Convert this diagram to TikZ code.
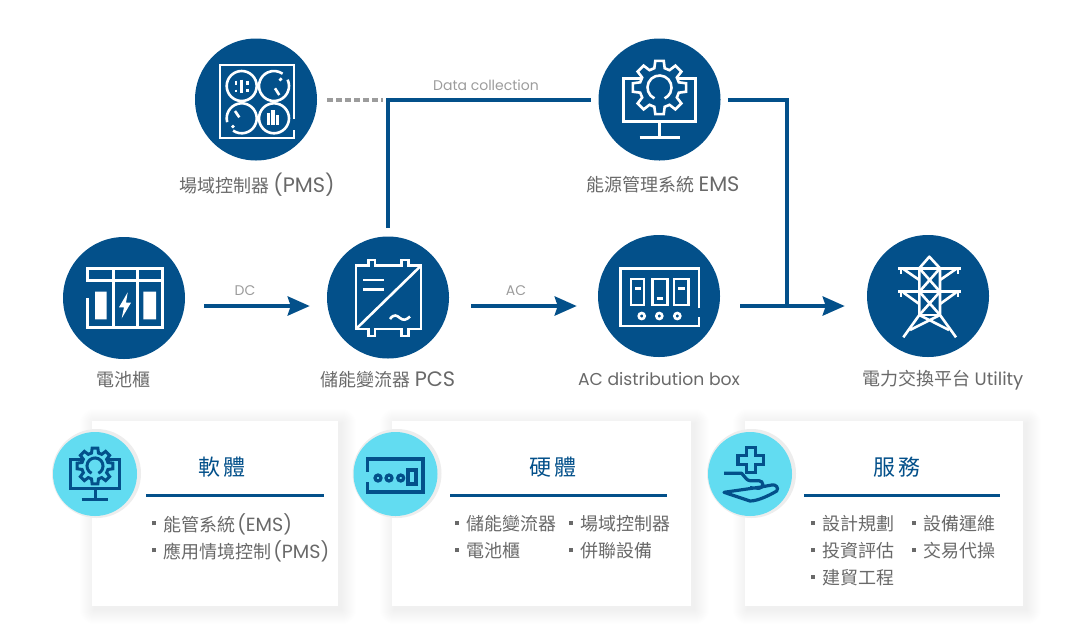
\documentclass[tikz,border=0pt]{standalone}
\usepackage{fontspec}
\setmainfont{Noto Sans CJK TC}
\newfontfamily\latin{Poppins}
\newfontfamily\latincaps[Scale=1.16]{Poppins}
\newfontfamily\latinlist[Scale=1.06]{Poppins}
\usetikzlibrary{arrows.meta}
\newdimen\px
\px=.75pt
\definecolor{deep}{HTML}{03508A}
\definecolor{sky}{HTML}{62DCF1}
\definecolor{ink}{HTML}{696969}
\definecolor{faint}{HTML}{9C9C9C}
\tikzset{
	hub/.style={circle, fill=deep, minimum size=122\px, inner sep=0pt},
	badge/.style={circle, fill=sky, minimum size=84\px, inner sep=0pt},
	halo/.style={circle, fill=black!7, minimum size=89\px, inner sep=0pt},
	card/.style={rectangle, fill=white, minimum height=185\px, inner sep=0pt},
	caption/.style={text=ink, inner sep=0pt, font=\fontsize{13.5pt}{16pt}\selectfont},
	tag/.style={text=faint, inner sep=0pt, font=\fontsize{10.5pt}{13pt}\selectfont},
	headline/.style={text=deep, inner sep=0pt, font=\fontsize{16.5pt}{20pt}\selectfont},
	entry/.style={text=ink, anchor=west, inner sep=0pt, font=\fontsize{13.5pt}{16pt}\selectfont},
	flow/.style={draw=deep, line width=4\px},
	flowarrow/.style={flow, -{Stealth[length=16.5pt,width=14.25pt,inset=2.25pt]}},
	datalink/.style={draw=faint, line width=4\px, dash pattern=on 6\px off 3\px},
	rulebar/.style={draw=deep, line width=3\px},
	mono/.style={draw=white, line width=2.6\px},
	duo/.style={draw=deep, line width=3.2\px}
}
\tikzset{
	pics/gearscreen/.style n args={3}{code={
		\draw[draw=#1, line width=#3] (-36,-21) -- (36,-21) -- (36,22) -- (-36,22) -- cycle;
		\draw[draw=#1, line width=#3] (0,22) -- (0,38) (-20,38) -- (20,38);
		\begin{scope}[shift={(0,-12)}]
			\draw[draw=#1, fill=#2, line width=#3] (-15:20)
				\foreach \a in {0,45,...,315} {
					-- (\a-15:20) -- (\a-9:27) -- (\a+9:27) -- (\a+15:20)
				} -- cycle;
			\draw[draw=#1, line width=#3] (115:12) arc[start angle=115, delta angle=310, radius=12];
		\end{scope}
	}},
	pics/panel/.style={code={
		\draw[mono] (38,19) -- (38,-34.5) -- (-36,-34.5) -- (-36,38.5) -- (38,38.5) -- (38,30);
		\draw[mono] (-14.3,-13.5) circle (15);
		\draw[mono] (18,-13.5) ++(-25:15) arc[start angle=-25, delta angle=330, radius=15];
		\draw[mono] (-14.3,18.8) ++(165:15) arc[start angle=165, delta angle=320, radius=15];
		\draw[mono] (18,18.8) circle (15);
		\draw[mono] (-14.3,-20) -- (-14.3,-7) (-20,-19) -- (-20,-15) (-20,-10) -- (-20,-8)
			(-8.5,-19) -- (-8.5,-15) (-8.5,-11) -- (-8.5,-8);
		\draw[mono] (19,-11.2) -- (23.3,-4.5) (25.7,-21.2) -- (23.5,-19);
		\draw[mono] (-21,11.5) -- (-16.7,17.8) (-24,28) -- (-22,26);
		\draw[line width=3.5\px, draw=white] (12.3,25) -- (12.3,13.8) (16.9,25) -- (16.9,10.5) (21.5,25) -- (21.5,15.5);
	}},
	pics/cabinet/.style={code={
		\draw[mono] (-36.3,0.3) -- (-36.3,29.3) -- (38.7,29.3) -- (38.7,-29.7) -- (-36.3,-29.7) -- (-36.3,-17.3) -- (38.7,-17.3);
		\draw[mono] (-10.7,-29.7) -- (-10.7,29.3) (13.7,-29.7) -- (13.7,29.3);
		\fill[white] (-29,-6.3) rectangle (-17.3,21.3) (19.3,-6.3) rectangle (32,21.3);
		\fill[white] (3.7,-5.7) -- (-5,9.3) -- (0,9.3) -- (-2.3,20.3) -- (7,4.7) -- (2,4.7) -- cycle;
	}},
	pics/inverter/.style={code={
		\draw[mono] (-32,-31.8) -- (-19.7,-31.8) -- (-19.7,-37.5) -- (-13,-37.5) -- (-13,-31.8)
			-- (13.7,-31.8) -- (13.7,-37.5) -- (20.3,-37.5) -- (20.3,-31.8) -- (33,-31.8)
			-- (33,31.5) -- (20.3,31.5) -- (20.3,38.5) -- (13.7,38.5) -- (13.7,31.5)
			-- (-13,31.5) -- (-13,38.5) -- (-19.7,38.5) -- (-19.7,31.5) -- (-32,31.5) -- cycle;
		\draw[mono] (-32,31.5) -- (33,-31.8);
		\draw[mono] (-24.7,-17.5) -- (-4,-17.5) (-24.7,-8.2) -- (-4,-8.2);
		\draw[mono] (2,21.5) .. controls (6,16) and (9,18) .. (12,20.5) .. controls (15,23) and (18,23) .. (22,19);
	}},
	pics/switchbox/.style={code={
		\draw[mono] (40,12.3) -- (40,-27.7) -- (-38.3,-27.7) -- (-38.3,30) -- (40,30) -- (40,21.3);
		\draw[mono] (-28,-17) rectangle (-15,9) (-6.7,-17) rectangle (8.3,9) (15,-17) rectangle (29.3,9);
		\draw[mono] (-24,-7.7) -- (-18.3,-7.7) (-2.3,2.3) -- (3.7,2.3) (19.3,-7.7) -- (26,-7.7);
		\draw[mono] (-17.3,20) circle (3) (0.3,20) circle (3) (18.3,20) circle (3);
	}},
	pics/pylon/.style={code={
		\draw[mono, line join=round] (-24.7,41.3) -- (-8.7,19) -- (-8.7,-27.7) -- (1.3,-39.3) -- (12,-27.7) -- (12,19) -- (28,41.3);
		\draw[mono] (-29.7,-27.7) -- (32.7,-27.7) (-29.7,-4.3) -- (32.7,-4.3) (-8.7,19) -- (12,19);
		\draw[mono] (-8.7,-27.7) -- (12,-4.3) (12,-27.7) -- (-8.7,-4.3) (-8.7,-4.3) -- (12,19) (12,-4.3) -- (-8.7,19);
		\draw[mono] (-8.7,19) -- (21,34) (12,19) -- (-18,34);
		\draw[mono] (-24.7,-27) -- (-8.7,-16) (28,-27) -- (12,-16) (-24.7,-3.5) -- (-8.7,8) (28,-3.5) -- (12,8);
		\draw[mono] (-27,-27.7) -- (-27,-22) (30,-27.7) -- (30,-22) (-27,-4.3) -- (-27,1) (30,-4.3) -- (30,1);
	}},
	pics/meterbox/.style={code={
		\draw[duo] (-27.8,-2.3) -- (-27.8,-15) -- (27.5,-15) -- (27.5,18) -- (-27.8,18) -- (-27.8,7.7);
		\draw[duo] (-17.5,4) circle (3) (-6.5,4) circle (3) (5.2,4) circle (3);
		\draw[duo] (12.5,-4) rectangle (20.5,10);
	}},
	pics/carehand/.style={code={
		\draw[duo] (-3.8,-26.7) -- (5.2,-26.7) -- (5.2,-18.5) -- (13.4,-18.5) -- (13.4,-9.5) -- (5.2,-9.5)
			-- (5.2,-1.3) -- (-3.8,-1.3) -- (-3.8,-9.5) -- (-12,-9.5) -- (-12,-18.5) -- (-3.8,-18.5) -- cycle;
		\draw[duo, line join=round] (-26,-0.7) -- (-8.3,-0.7) .. controls (-5,3) and (-3,6.7) .. (0,6.7)
			-- (9,6.7) .. controls (14,6.7) and (14,14.3) .. (9,14.3) -- (0,13.7)
			(11,13) -- (21.7,11) .. controls (26,10) and (29,14) .. (26.7,17)
			.. controls (20,21) and (8,27) .. (0,27) -- (-26,18.3) -- cycle;
	}}
}
\newcommand{\cardshadow}[1]{
	\foreach \g in {1,2,...,15}
		\fill[black, opacity=.005, rounded corners=\g\px]
			([xshift=3\px-\g\px, yshift=\g\px-3\px]#1.north west) rectangle
			([xshift=3\px+\g\px, yshift=-3\px-\g\px]#1.south east);
}
\newcommand{\boxmark}{\textcolor{ink}{\rule[.32em]{4\px}{4\px}}\hspace{7\px}}
\pgfdeclarelayer{background}
\pgfsetlayers{background,main}

\begin{document}
\begin{tikzpicture}[x=.75pt, y=-.75pt]
	\useasboundingbox (0,0) rectangle (1080,640);

	\node (pms) [hub] at (256,99.5) {};
	\node (ems) [hub] at (659.5,99.5) {};
	\node (battery) [hub] at (124,298) {};
	\node (pcs) [hub] at (388,297.5) {};
	\node (acbox) [hub] at (659,296) {};
	\node (utility) [hub] at (928,296) {};

	\pic at (pms) {panel};
	\pic at (ems) {gearscreen={white}{deep}{2.6\px}};
	\pic at (battery) {cabinet};
	\pic at (pcs) {inverter};
	\pic at (acbox) {switchbox};
	\pic at (utility) {pylon};

	\node (pmstext) [caption] at (257,185) {場域控制器 {\latincaps (PMS)}};
	\node (emstext) [caption] at (663,185) {能源管理系統 {\latincaps EMS}};
	\node (batterytext) [caption] at (123,380) {電池櫃};
	\node (pcstext) [caption] at (388,380) {儲能變流器 {\latincaps PCS}};
	\node (acboxtext) [caption, font=\fontsize{12.9pt}{16pt}\selectfont] at (659,379) {\latin AC distribution box};
	\node (utilitytext) [caption] at (943,380) {電力交換平台 {\latin Utility}};

	\node (datatag) [tag] at (486,85) {\latin Data collection};
	\node (dctag) [tag] at (245,291) {\latin DC};
	\node (actag) [tag] at (516,291) {\latin AC};

	\coordinate (tap) at (383,99.5);
	\coordinate (merge) at (787,306);

	\draw[flowarrow, shorten <=19\px, shorten >=17\px] ([yshift=-8\px]battery.east) -- ([yshift=-8.5\px]pcs.west);
	\draw[flowarrow, shorten <=22\px, shorten >=21\px] ([yshift=-8.5\px]pcs.east) -- ([yshift=-10\px]acbox.west);
	\draw[flowarrow, shorten <=20\px, shorten >=22\px] ([yshift=-10\px]acbox.east) -- ([yshift=-10\px]utility.west);
	\draw[flow, shorten <=7\px] (ems.east) -| (merge);
	\draw[flow, shorten <=8\px, shorten >=7\px] (pcs.north) |- (ems.west);
	\draw[datalink, shorten <=10\px] (pms.east) -- (tap);

	\node (softcard) [card, minimum width=246\px] at (215,513.5) {};
	\node (hardcard) [card, minimum width=299\px] at (541.5,513.5) {};
	\node (servcard) [card, minimum width=278\px] at (884,513.5) {};

	\begin{pgfonlayer}{background}
		\cardshadow{softcard}
		\cardshadow{hardcard}
		\cardshadow{servcard}
	\end{pgfonlayer}

	\node (softhalo) [halo] at (96.5,473.5) {};
	\node (hardhalo) [halo] at (397,473.5) {};
	\node (servhalo) [halo] at (751.5,473.5) {};
	\node (softbadge) [badge] at (95,474) {};
	\node (hardbadge) [badge] at (395.5,474) {};
	\node (servbadge) [badge] at (750,474) {};

	\pic[scale=.67] at (softbadge) {gearscreen={deep}{sky}{3\px}};
	\pic at (hardbadge) {meterbox};
	\pic at (servbadge) {carehand};

	\node (softhead) [headline] at (222,467) {軟\hspace{3\px}體};
	\node (hardhead) [headline] at (553,467) {硬\hspace{3\px}體};
	\node (servhead) [headline] at (897,467) {服\hspace{3\px}務};

	\coordinate (softleft) at (146,495);
	\coordinate (softright) at (324,495);
	\coordinate (hardleft) at (450,495);
	\coordinate (hardright) at (667,495);
	\coordinate (servleft) at (804,495);
	\coordinate (servright) at (1000,495);
	\draw[rulebar] (softleft) -- (softright);
	\draw[rulebar] (hardleft) -- (hardright);
	\draw[rulebar] (servleft) -- (servright);

	\node (softa) [entry] at (152,524) {\boxmark 能管系統\hspace{2\px}{\latinlist (EMS)}};
	\node (softb) [entry] at (152,551) {\boxmark 應用情境控制\hspace{2\px}{\latinlist (PMS)}};
	\foreach \name/\x/\y/\words in {
		harda/455/524/儲能變流器, hardb/455/551/電池櫃, hardc/569/524/場域控制器, hardd/569/551/併聯設備,
		serva/811/524/設計規劃, servb/811/551/投資評估, servc/811/578/建貿工程,
		servd/912/524/設備運維, serve/912/551/交易代操
	}
		\node (\name) [entry] at (\x,\y) {\boxmark \words};
\end{tikzpicture}
\end{document}
